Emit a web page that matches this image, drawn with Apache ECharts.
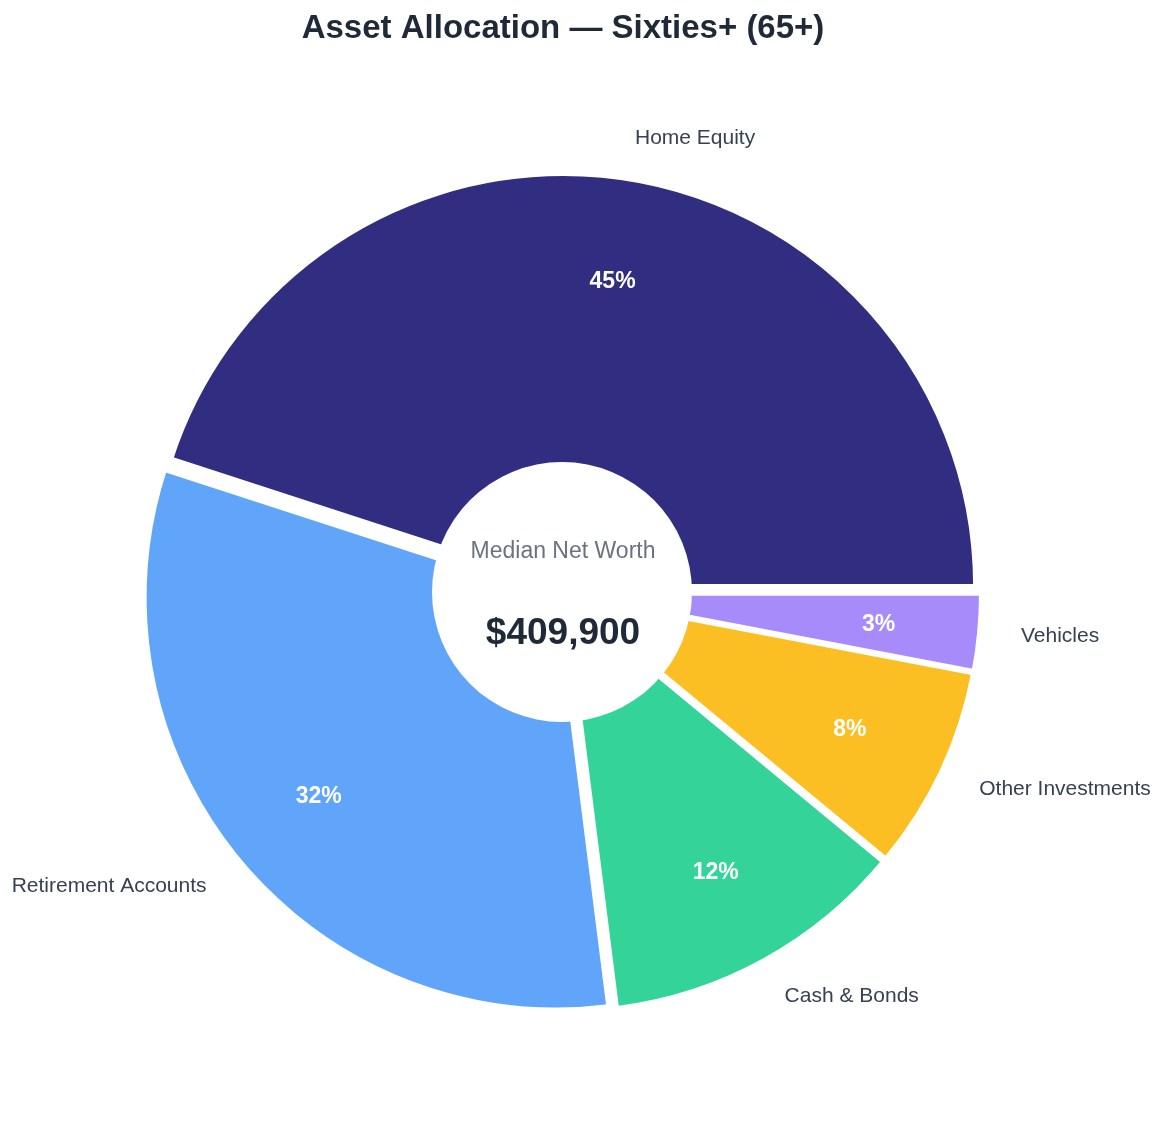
<!DOCTYPE html>
<html>
<head>
<meta charset="utf-8">
<script src="https://cdn.jsdelivr.net/npm/echarts@6/dist/echarts.min.js"></script>
<style>
  html, body { margin: 0; padding: 0; background: #ffffff; }
  #chart { width: 1165px; height: 1123px; }
</style>
</head>
<body>
<div id="chart"></div>
<script>
// chart data
const categories = ['Home Equity', 'Retirement Accounts', 'Cash & Bonds', 'Other Investments', 'Vehicles'];
const shares = [45, 32, 12, 8, 3];
const colors = ['#312e81', '#60a5fa', '#34d399', '#fbbf24', '#a78bfa'];
const centerTitle = 'Median Net Worth';
const centerValue = '$409,900';

const FONT = "'Liberation Sans', Arial, sans-serif";
const CX = 562, CY = 593, R = 412;

const chart = echarts.init(document.getElementById('chart'));

// wedges, exploded a little, with the category names outside
const wedgeData = categories.map((name, i) => ({
  name: name,
  value: shares[i],
  selected: true,
  itemStyle: { color: colors[i] }
}));

// same slices again, transparent, only to carry the percent labels
const pctData = categories.map((name, i) => ({
  name: name,
  value: shares[i]
}));

const option = {
  animation: false,
  backgroundColor: '#ffffff',
  title: {
    text: 'Asset Allocation — Sixties+ (65+)',
    left: CX - 4,
    top: 7,
    textAlign: 'center',
    textStyle: { fontFamily: FONT, fontSize: 33, fontWeight: 'bold', color: '#1f2937' }
  },
  series: [
    {
      type: 'pie',
      center: [CX, CY],
      radius: [0, R],
      startAngle: 0,
      clockwise: false,
      selectedMode: 'multiple',
      selectedOffset: 7,
      avoidLabelOverlap: false,
      silent: true,
      itemStyle: { borderColor: '#ffffff', borderWidth: 4 },
      label: {
        show: true,
        position: 'outside',
        formatter: '{b}',
        fontFamily: FONT,
        fontSize: 21,
        color: '#374151',
        distanceToLabelLine: 1,
        offset: [0, 2]
      },
      labelLine: { show: false, length: 41, length2: 0 },
      data: wedgeData
    },
    {
      type: 'pie',
      z: 10,
      center: [CX, CY],
      radius: [216, R],
      startAngle: 0,
      clockwise: false,
      silent: true,
      avoidLabelOverlap: false,
      itemStyle: { color: 'rgba(0,0,0,0)' },
      label: {
        show: true,
        position: 'inside',
        formatter: '{c}%',
        fontFamily: FONT,
        fontSize: 23,
        fontWeight: 'bold',
        color: '#ffffff',
        offset: [1, 2]
      },
      labelLine: { show: false },
      data: pctData
    }
  ],
  graphic: [
    {
      type: 'circle',
      z: 100,
      shape: { cx: CX, cy: CY - 1, r: 130 },
      style: { fill: '#ffffff' }
    },
    {
      type: 'text',
      z: 101,
      x: CX + 1,
      y: 552,
      style: {
        text: centerTitle,
        fontFamily: FONT,
        fontSize: 23,
        fill: '#6b7280',
        align: 'center',
        verticalAlign: 'middle'
      }
    },
    {
      type: 'text',
      z: 101,
      x: CX + 1,
      y: 634,
      style: {
        text: centerValue,
        fontFamily: FONT,
        fontSize: 37,
        fontWeight: 'bold',
        fill: '#1f2937',
        align: 'center',
        verticalAlign: 'middle'
      }
    }
  ]
};

chart.setOption(option);
window.addEventListener('resize', () => chart.resize());
</script>
</body>
</html>
